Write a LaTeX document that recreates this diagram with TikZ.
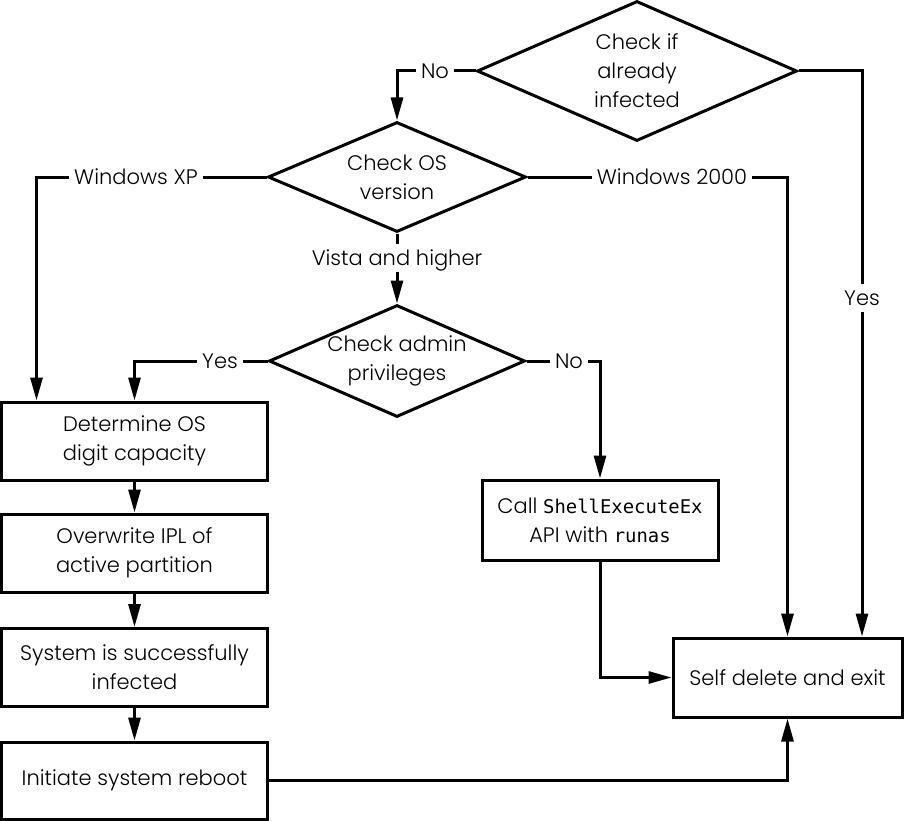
\documentclass[tikz,border=0pt]{standalone}
\usepackage{fontspec}
\setmainfont{Poppins Light}
\newfontfamily\codefont[Scale=0.9]{DejaVu Sans Mono}
\usetikzlibrary{positioning,arrows.meta,shapes.geometric}
\newcommand{\chartfont}{\fontsize{21bp}{29bp}\selectfont}
\tikzset{
  flow/.style={-{Triangle[length=23bp,width=12bp]},line width=3bp},
  link/.style={line width=3bp},
  box/.style={draw,line width=3bp,minimum height=78bp,align=center,font=\chartfont},
  decision/.style={draw,diamond,line width=3bp,inner sep=0pt,align=center,font=\chartfont},
  tag/.style={inner xsep=5bp,inner ysep=2bp,text height=15bp,text depth=0pt,font=\chartfont}
}

\begin{document}
\begin{tikzpicture}[x=1bp,y=-1bp]
  \useasboundingbox (0,0) rectangle (905,821);
  % decisions
  \node[decision,minimum width=320bp,minimum height=140bp,aspect=2.29] (infected) at (637,71) {Check if\\already\\infected};
  \node[decision,minimum width=258bp,minimum height=110bp,aspect=2.35] (osver) at (397,177) {Check OS\\version};
  \node[decision,minimum width=256bp,minimum height=112bp,aspect=2.29] (admin) at (397,361) {Check admin\\privileges};
  % boxes
  \node[box,minimum width=265bp] (digits) at (134.5,441) {Determine OS\\digit capacity};
  \node[box,minimum width=265bp] (ipl) at (134.5,553) {Overwrite IPL of\\active partition};
  \node[box,minimum width=265bp] (infd) at (134.5,667.5) {System is successfully\\infected};
  \node[box,minimum width=265bp,minimum height=77bp] (reboot) at (134.5,780.5) {Initiate system reboot};
  \node[box,minimum width=236bp,minimum height=80bp] (runas) at (600,520) {Call {\codefont ShellExecuteEx}\\API with {\codefont runas}};
  \node[box,minimum width=229bp,minimum height=79bp] (selfdel) at (787.5,677.5) {Self delete and exit};
  % labels
  \node[tag] (no1) at (435,71) {No};
  \node[tag] (xp) at (136,177) {Windows XP};
  \node[tag] (w2k) at (672,177) {Windows 2000};
  \node[tag,inner ysep=6bp] (vista) at (397,258) {Vista and higher};
  \node[tag] (yes1) at (220,361) {Yes};
  \node[tag] (no2) at (569,361) {No};
  \node[tag,inner ysep=6bp] (yes2) at (862,298) {Yes};
  % connectors
  \draw[link] (infected.west) -- (no1.east);
  \draw[flow] (no1.west) -| (osver.north);
  \draw[link] (infected.east) -| (yes2.north);
  \draw[flow] (yes2.south) -- (yes2.south |- selfdel.north);
  \draw[link] (osver.west) -- (xp.east);
  \draw[flow] (xp.west) -| ([xshift=36bp]digits.north west);
  \draw[link] (osver.east) -- (w2k.west);
  \draw[flow] (w2k.east) -| (selfdel.north);
  \draw[link] (osver.south) -- (vista.north);
  \draw[flow] (vista.south) -- (admin.north);
  \draw[link] (admin.west) -- (yes1.east);
  \draw[flow] (yes1.west) -| (digits.north);
  \draw[link] (admin.east) -- (no2.west);
  \draw[flow] (no2.east) -| (runas.north);
  \draw[flow] (runas.south) |- (selfdel.west);
  \draw[flow] (digits) -- (ipl);
  \draw[flow] (ipl) -- (infd);
  \draw[flow] (infd) -- (reboot);
  \draw[flow] (reboot.east) -| (selfdel.south);
\end{tikzpicture}
\end{document}
